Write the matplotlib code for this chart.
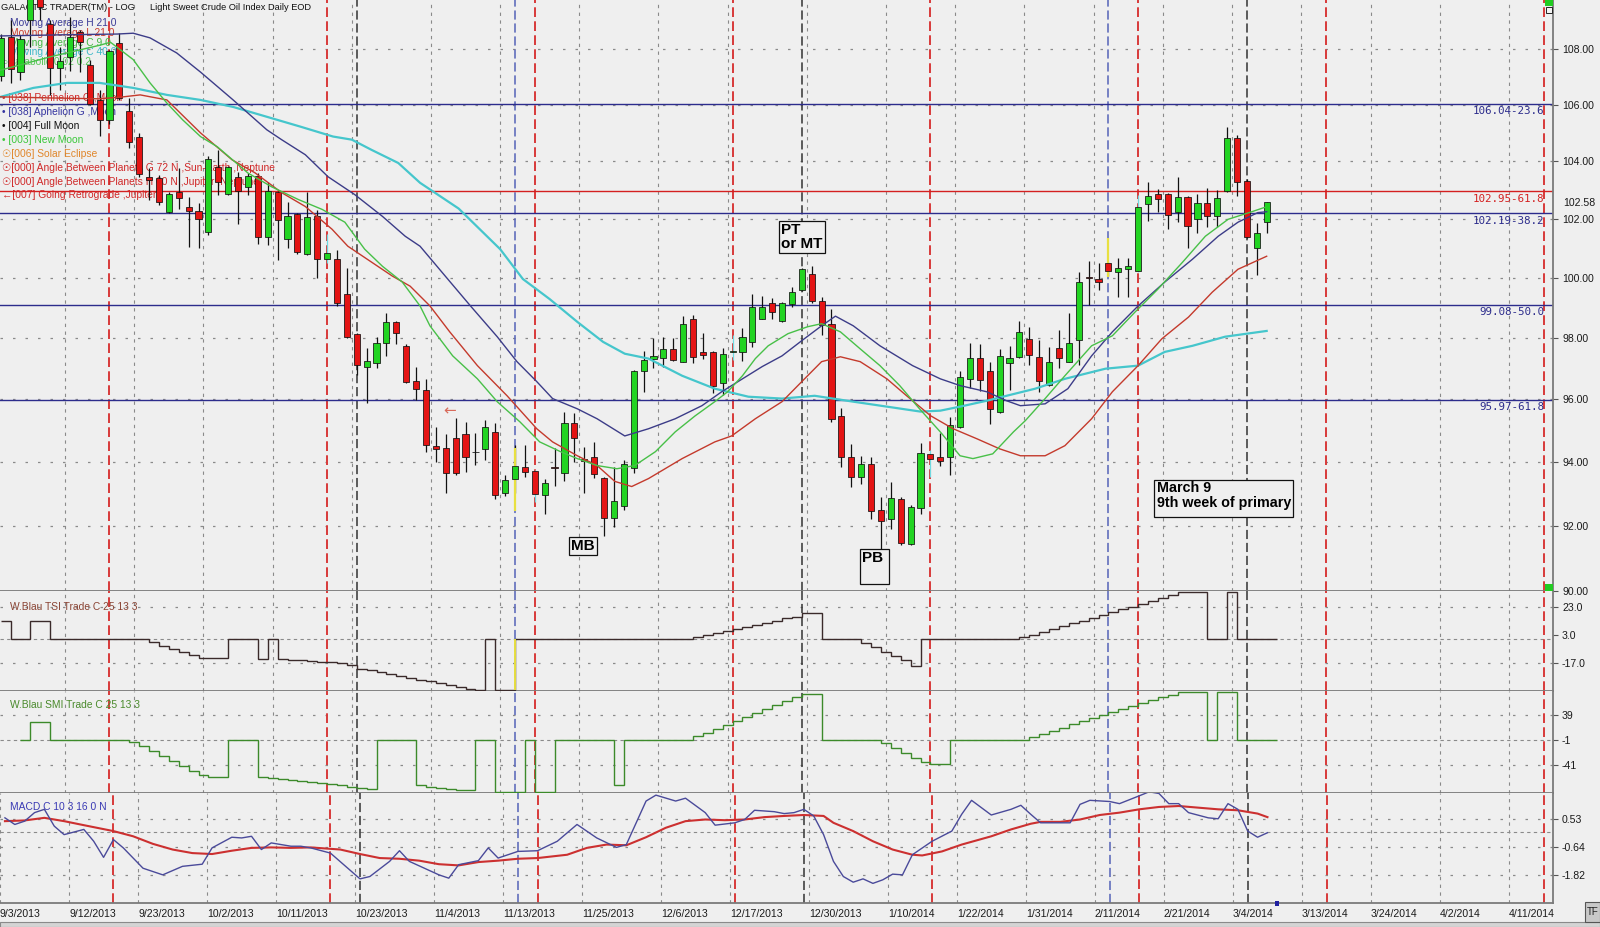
import numpy as np
import pandas as pd
import matplotlib
matplotlib.use('Agg')
from matplotlib import pyplot as plt
from matplotlib.patches import Rectangle
from matplotlib.ticker import FixedLocator, NullLocator

plt.rcParams['font.family'] = ['Liberation Sans', 'DejaVu Sans']

# ---------------- data ----------------
opens = [107.02, 108.44, 107.16, 109.06, 110.40, 108.90, 107.33, 107.70, 108.62, 107.44,
         106.18, 105.47, 108.22, 105.76, 104.84, 103.45, 103.41, 102.23, 102.92, 102.43,
         102.26, 101.56, 103.79, 102.86, 103.45, 103.10, 103.48, 101.39, 102.93, 101.32,
         102.17, 100.81, 102.10, 100.64, 100.64, 99.47, 98.13, 97.06, 97.19, 97.84,
         98.51, 97.74, 96.60, 96.30, 94.51, 94.44, 94.76, 94.89, 94.32, 94.41,
         94.95, 93.02, 93.45, 93.84, 93.71, 92.95, 93.84, 93.65, 95.24, 94.10,
         94.16, 93.48, 92.23, 92.60, 93.81, 96.90, 97.32, 97.35, 97.64, 97.22,
         98.64, 97.52, 97.55, 96.53, 97.52, 97.52, 97.87, 98.64, 99.17, 98.57,
         99.14, 99.60, 100.13, 99.24, 98.47, 95.45, 94.16, 93.52, 93.94, 92.48,
         92.20, 92.82, 91.43, 92.55, 94.25, 94.16, 94.16, 95.11, 96.67, 97.35,
         96.93, 95.59, 97.16, 97.38, 97.97, 97.38, 96.47, 97.67, 97.22, 97.93,
         100.03, 99.97, 100.50, 100.20, 100.30, 100.24, 102.50, 102.86, 102.86, 102.24,
         102.76, 102.00, 102.54, 102.10, 102.97, 104.83, 103.31, 101.02, 101.90]
highs = [108.55, 109.06, 108.50, 110.70, 110.60, 109.06, 108.07, 109.17, 108.70, 107.60,
         106.52, 107.96, 108.60, 106.25, 104.98, 103.76, 103.52, 102.92, 103.76, 102.75,
         102.54, 104.20, 104.38, 103.85, 103.62, 103.59, 103.59, 103.28, 102.95, 102.59,
         102.20, 102.93, 102.31, 101.49, 100.95, 100.34, 98.17, 97.67, 98.03, 98.84,
         98.55, 97.80, 97.06, 96.67, 95.11, 94.89, 95.40, 95.27, 94.92, 95.33,
         95.24, 93.58, 94.54, 94.54, 93.74, 93.45, 94.44, 95.60, 95.56, 94.48,
         94.63, 93.52, 93.84, 94.06, 96.95, 97.58, 98.00, 98.03, 98.00, 98.71,
         98.77, 98.17, 97.58, 97.67, 98.10, 98.33, 99.47, 99.40, 99.34, 99.20,
         99.70, 100.32, 100.41, 99.37, 98.97, 95.73, 94.57, 94.19, 94.16, 92.88,
         93.36, 92.88, 92.64, 94.60, 94.38, 94.92, 95.44, 96.90, 97.84, 97.80,
         97.22, 97.64, 97.74, 98.57, 98.37, 97.93, 97.70, 98.27, 98.84, 100.20,
         100.57, 100.50, 100.53, 100.67, 100.67, 102.83, 103.28, 103.04, 102.90, 103.45,
         102.80, 102.86, 103.07, 103.00, 105.20, 104.94, 103.38, 101.87, 102.57]
lows = [106.85, 106.78, 106.88, 108.07, 109.06, 106.34, 106.52, 107.20, 107.16, 106.00,
        104.90, 105.30, 106.15, 104.45, 103.45, 102.64, 102.47, 102.20, 102.36, 101.05,
        101.00, 101.46, 102.83, 102.83, 101.83, 102.83, 101.15, 101.12, 100.60, 101.02,
        100.82, 100.78, 100.00, 100.50, 99.07, 98.00, 96.77, 95.87, 97.00, 97.39,
        97.80, 96.53, 95.97, 94.32, 94.00, 93.03, 93.58, 93.68, 93.90, 94.06,
        92.82, 92.92, 93.03, 93.52, 92.73, 92.35, 93.23, 93.39, 94.00, 93.03,
        93.48, 91.68, 91.97, 92.50, 93.65, 96.23, 97.00, 97.06, 97.25, 97.22,
        97.19, 97.32, 96.20, 96.13, 97.29, 97.25, 97.70, 98.61, 98.64, 98.51,
        99.04, 99.57, 99.17, 98.10, 95.27, 93.84, 93.20, 93.29, 92.20, 91.13,
        91.91, 91.40, 91.40, 92.35, 93.52, 93.87, 93.58, 95.08, 96.37, 96.27,
        95.21, 95.56, 96.30, 97.35, 97.12, 96.23, 96.43, 97.00, 97.20, 97.12,
        99.10, 99.60, 100.07, 99.37, 99.37, 100.20, 101.93, 102.24, 101.66, 101.90,
        101.00, 101.53, 101.73, 101.73, 102.93, 102.79, 101.36, 100.10, 101.53]
closes = [108.41, 107.27, 108.37, 110.50, 109.54, 107.33, 107.56, 108.44, 108.26, 106.04,
          105.44, 107.93, 106.25, 104.66, 103.55, 103.34, 102.57, 102.85, 102.71, 102.26,
          102.00, 104.07, 103.28, 103.79, 102.97, 103.48, 101.39, 102.97, 101.97, 102.10,
          100.88, 102.07, 100.64, 100.85, 99.17, 98.03, 97.10, 97.25, 97.84, 98.51,
          98.17, 96.57, 96.33, 94.54, 94.41, 93.65, 93.65, 94.16, 94.30, 95.11,
          92.95, 93.43, 93.87, 93.68, 92.99, 93.33, 93.81, 95.24, 94.76, 94.03,
          93.61, 92.23, 92.76, 93.94, 96.93, 97.29, 97.42, 97.64, 97.29, 98.47,
          97.38, 97.45, 96.43, 97.48, 97.58, 98.03, 99.04, 99.04, 98.87, 99.17,
          99.54, 100.30, 99.24, 98.41, 95.35, 94.16, 93.52, 93.94, 92.45, 92.16,
          92.86, 91.46, 92.58, 94.28, 94.10, 94.03, 95.17, 96.73, 97.35, 96.63,
          95.68, 97.42, 97.35, 98.20, 97.45, 96.60, 97.22, 97.35, 97.84, 99.87,
          99.98, 99.87, 100.24, 100.34, 100.41, 102.41, 102.79, 102.69, 102.14, 102.76,
          101.76, 102.54, 102.10, 102.72, 104.83, 103.28, 101.39, 101.53, 102.58]

# moving averages (bar position, value)
mah_bars = [0, 6.0, 11.8, 13.4, 15.1, 17.8, 20.2, 23.5, 26.9, 28.4, 30.8, 33.1, 35.8, 38.6,
            40.9, 42.4, 45.2, 47.5, 50.2, 52.2, 54.2, 55.8, 58.3, 60.3, 63.1, 65.5, 68.2,
            70.9, 72.9, 75.0, 77.0, 79.0, 81.0, 83.0, 84.4, 86.2, 88.9, 92.2, 95.0, 97.0,
            99.7, 101.7, 103.1, 105.6, 107.9, 110.3, 112.4, 115.0, 117.7, 120.5, 123.1,
            125.1, 127.1, 128.0]
mah_vals = [108.48, 108.52, 108.55, 108.58, 108.41, 107.86, 107.17, 106.17, 105.11, 104.76,
            104.23, 103.46, 102.84, 102.09, 101.41, 101.07, 99.96, 99.06, 98.04, 97.22,
            96.57, 96.02, 95.69, 95.37, 94.82, 95.05, 95.37, 95.79, 96.24, 96.66, 97.06,
            97.41, 97.91, 98.40, 98.72, 98.40, 97.74, 97.09, 96.66, 96.44, 96.24, 95.95,
            95.79, 95.85, 96.34, 97.41, 98.20, 99.06, 99.86, 100.63, 101.41, 101.89,
            102.22, 102.25]
mal_bars = [0, 5.0, 10.0, 12.4, 14.1, 16.8, 20.2, 23.4, 25.7, 28.4, 30.8, 33.5, 35.1, 37.5,
            39.6, 41.4, 43.4, 45.4, 48.2, 51.2, 54.2, 55.8, 58.3, 60.3, 62.1, 63.8, 65.5,
            68.9, 72.2, 73.9, 76.3, 79.0, 81.0, 83.0, 84.9, 86.9, 89.6, 91.6, 94.0, 96.3,
            98.7, 101.0, 103.1, 105.6, 107.6, 110.3, 112.4, 115.0, 117.4, 120.1, 122.5,
            125.1, 128.0]
mal_vals = [106.28, 106.24, 106.21, 106.28, 106.35, 106.17, 105.00, 104.05, 103.60, 102.91,
            102.43, 101.65, 101.07, 100.53, 100.06, 99.72, 99.06, 98.20, 97.09, 96.11,
            95.05, 94.63, 94.19, 93.88, 93.38, 93.22, 93.47, 94.10, 94.63, 94.82, 95.37,
            95.92, 96.57, 97.22, 97.38, 97.22, 96.66, 96.11, 95.47, 95.05, 94.73, 94.41,
            94.19, 94.19, 94.51, 95.37, 96.24, 97.09, 97.97, 98.69, 99.52, 100.29, 100.73]
mac9_bars = [0, 5.0, 10.0, 11.1, 13.4, 15.1, 16.8, 18.4, 20.2, 21.9, 25.0, 27.4, 30.1, 32.5,
             34.8, 36.8, 38.6, 40.6, 42.4, 43.4, 45.7, 48.2, 50.2, 52.5, 54.5, 56.6, 58.3,
             60.3, 62.3, 64.1, 66.2, 68.2, 70.2, 72.2, 73.5, 75.0, 76.3, 77.6, 79.6, 81.6,
             83.0, 84.9, 86.9, 88.9, 90.9, 92.9, 95.0, 97.0, 98.3, 100.3, 102.4, 103.6,
             105.6, 107.6, 110.3, 112.4, 114.7, 117.0, 119.5, 121.8, 124.1, 126.5, 127.8]
mac9_vals = [107.24, 107.72, 108.14, 108.25, 107.62, 106.78, 106.06, 105.46, 104.87, 104.51,
             103.59, 103.11, 102.67, 102.33, 101.89, 100.97, 100.39, 99.86, 99.06, 98.40,
             97.41, 96.66, 95.92, 95.27, 94.63, 94.32, 94.10, 93.88, 93.78, 93.88, 94.32,
             94.95, 95.46, 95.92, 96.24, 96.76, 97.32, 97.74, 98.14, 98.37, 98.47, 98.20,
             97.64, 97.09, 96.44, 95.69, 94.95, 94.19, 94.10, 94.25, 94.95, 95.31, 96.02,
             96.76, 97.74, 98.07, 98.86, 99.62, 100.53, 101.41, 101.99, 102.25, 102.40]
mac40_bars = [0, 3.3, 6.7, 10.0, 13.4, 16.8, 20.2, 23.5, 26.9, 30.3, 33.6, 35.5, 37.5, 40.2,
              42.4, 46.3, 50.5, 52.8, 55.5, 58.3, 60.9, 63.1, 65.5, 68.9, 72.2, 75.6, 79.0,
              82.3, 86.2, 89.6, 93.0, 95.0, 97.0, 99.7, 101.7, 104.6, 107.6, 111.7, 115.0,
              117.7, 120.5, 123.8, 128.0]
mac40_vals = [106.28, 106.60, 106.78, 106.78, 106.60, 106.35, 106.17, 105.92, 105.57,
              105.22, 104.87, 104.76, 104.40, 103.94, 103.25, 102.36, 100.97, 99.96, 99.29,
              98.53, 97.87, 97.48, 97.32, 96.76, 96.34, 96.08, 96.02, 96.11, 95.92, 95.76,
              95.60, 95.63, 95.76, 95.95, 96.11, 96.34, 96.66, 96.99, 97.09, 97.54, 97.74,
              98.04, 98.23]

levels = [106.04, 102.95, 102.19, 99.08, 95.97]
level_labels = ['106.04-23.6', '102.95-61.8', '102.19-38.2', '99.08-50.0', '95.97-61.8']
level_colors = ['#2c2c8c', '#d42020', '#2c2c8c', '#2c2c8c', '#2c2c8c']

red_cycle_bars = [11, 33, 54, 74, 94, 115, 134, 156]
black_cycle_bars = [36, 81, 126]
navy_cycle_bars = [52, 112]
cyan_wick_bars = [33, 54, 74, 94, 115]
yellow_bars = [52, 112]
yellow_hi = [94.44, 101.36]
yellow_lo = [92.45, 100.03]

tsi = [13.5, 0, 0, 13.5, 13.5,
       0, 0, 0, 0, 0, 0, 0, 0, 0, 0,
       -2, -4.5, -7, -9, -11, -13, -13, -13,
       0, 0, 0, -14, 0,
       -14, -14.5, -15, -15.5, -16, -16.5, -17, -18,
       -21, -22, -23.5, -25, -26, -27.5, -29, -30, -31.5, -33, -34, -35.5, -36,
       0, -36, -36,
       0, 0, 0, 0, 0, 0, 0, 0, 0, 0, 0, 0, 0, 0, 0, 0, 0, 0,
       1.5, 3, 4.5, 6, 7.5, 9, 10.5, 12, 13.5, 15, 16.3,
       18.6, 18.6,
       0, 0, 0, 0,
       -2.5, -5.5, -9, -12, -15, -19,
       0, 0, 0, 0, 0, 0, 0, 0, 0, 0,
       1.5, 3.5, 5.5, 7.5, 9.5, 11.5, 13.5, 15.5, 17.5, 19.5, 21.5, 23.5, 25.5, 27.5,
       29.5, 32, 34, 34, 34,
       0, 0, 34, 0, 0, 0, 0]
smi = [np.nan, np.nan, -1, 28, 28,
       -1, -1, -1, -1, -1, -1, -1, -1,
       -4, -11, -19, -27, -35, -43, -51, -58, -60, -60,
       -1, -1, -1,
       -61, -62.5, -64, -65.5, -67, -68.5, -70, -72, -74, -76, -79, -80,
       -1, -1, -1, -1,
       -74, -76, -78, -79.5, -81, -82,
       -1, -1,
       -84, -84, -84,
       -1,
       -84, -84,
       -1, -1, -1, -1, -1, -1,
       -73,
       -1, -1, -1, -1, -1, -1, -1,
       5, 11, 17, 23, 30, 36, 42, 49, 55, 61, 68,
       73, 73,
       -1, -1, -1, -1, -1, -1,
       -6, -14, -22, -30, -37, -40, -40,
       -1, -1, -1, -1, -1, -1, -1, -1,
       4, 9, 14, 19, 24, 29, 34, 39, 44, 49, 54, 59, 64, 68, 72, 76, 76, 76,
       -1, 76, 76, -1, -1, -1, -1]

macd_bars = [0, 1, 2, 3, 4, 5, 6, 8, 9, 10, 11, 12, 14, 16, 18, 20, 21, 23, 24, 25, 26, 27,
             29, 30, 31, 33, 36, 37, 39, 40, 41, 44, 45, 46, 48, 49, 50, 52, 54, 56, 58, 60,
             62, 63, 65, 66, 68, 69, 71, 72, 74, 75, 76, 78, 79, 80, 81, 82, 83, 84, 85, 86,
             87, 88, 89, 90, 91, 92, 94, 96, 97, 98, 100, 102, 103, 104, 105, 107, 108, 109,
             110, 112, 113, 115, 116, 117, 118, 119, 120, 122, 123, 124, 125, 126, 127, 128]
macd_line = [0.60, 0.32, 0.46, 0.82, 0.96, 0.25, -0.11, 0.11, -0.39, -1.07, -0.32, -0.67,
             -1.53, -1.81, -1.45, -1.36, -0.67, -0.22, -0.25, -0.18, -0.74, -0.46, -0.60,
             -0.60, -0.67, -0.89, -1.98, -1.88, -1.24, -0.79, -1.24, -1.81, -1.95, -1.38,
             -1.21, -0.67, -1.10, -0.82, -0.79, -0.39, 0.32, -0.25, -0.65, -0.53,
             1.31, 1.56, 1.31, 1.43, 0.82, 0.29, 0.39, 0.53, 0.92, 0.86, 0.78, 0.82, 0.96,
             0.68, -0.11, -1.24, -1.88, -2.12, -1.98, -2.17, -2.02, -1.78, -1.81, -0.96,
             -0.39, 0.04, 0.75, 1.34, 0.72, 0.96, 1.13, 0.75, 0.39, 0.39, 0.39, 1.17, 1.34,
             1.29, 1.20, 1.53, 1.70, 1.63, 1.20, 1.20, 0.82, 0.60, 0.56, 1.20, 0.96, 0.04,
             -0.22, -0.03]
signal_bars = [0, 2, 4, 6, 8, 11, 13, 15, 17, 19, 21, 23, 25, 27, 29, 31, 34, 36, 38, 40,
               42, 44, 46, 48, 50, 52, 54, 57, 59, 61, 63, 65, 67, 69, 71, 73, 75, 77, 79,
               81, 83, 84, 86, 88, 90, 92, 93, 95, 97, 100, 102, 104, 105, 107, 109, 111,
               113, 115, 117, 119, 121, 123, 125, 127, 128]
signal_line = [0.46, 0.49, 0.60, 0.46, 0.29, 0.04, -0.18, -0.50, -0.74, -0.89, -0.93,
               -0.79, -0.67, -0.65, -0.67, -0.65, -0.74, -0.93, -1.10, -1.13, -1.21, -1.36,
               -1.41, -1.27, -1.21, -1.13, -1.10, -0.96, -0.67, -0.53, -0.56,
               -0.22, 0.18, 0.46, 0.53, 0.50, 0.53, 0.63, 0.68, 0.72, 0.68, 0.39, 0.04,
               -0.39, -0.74, -0.96, -0.99, -0.82, -0.53, -0.18, 0.11, 0.35, 0.43, 0.43,
               0.53, 0.72, 0.82, 0.96, 1.06, 1.10, 1.03, 0.96, 0.92, 0.78, 0.63]

tick_dates = ['2013-09-03', '2013-09-12', '2013-09-23', '2013-10-02', '2013-10-11',
              '2013-10-23', '2013-11-04', '2013-11-13', '2013-11-25', '2013-12-06',
              '2013-12-17', '2013-12-30', '2014-01-10', '2014-01-22', '2014-01-31',
              '2014-02-11', '2014-02-21', '2014-03-04', '2014-03-13', '2014-03-24',
              '2014-04-02', '2014-04-11']
tick_labels = ['9/3/2013', '9/12/2013', '9/23/2013', '10/2/2013', '10/11/2013',
               '10/23/2013', '11/4/2013', '11/13/2013', '11/25/2013', '12/6/2013',
               '12/17/2013', '12/30/2013', '1/10/2014', '1/22/2014', '1/31/2014',
               '2/11/2014', '2/21/2014', '3/4/2014', '3/13/2014', '3/24/2014',
               '4/2/2014', '4/11/2014']
holidays = ['2013-11-28', '2013-12-25', '2014-01-01', '2014-01-20', '2014-02-17']

price_ticks = [90, 92, 94, 96, 98, 100, 102, 104, 106, 108]

# ---------------- figure ----------------
W, H = 1600, 927
BG = '#efefef'
GRID = '#8a8a8a'
PANEL = '#7a7a7a'

days = pd.bdate_range('2013-09-03', '2014-04-30', freq='C', holidays=holidays)
grid_pos = [days.get_loc(pd.Timestamp(d)) - 0.5 for d in tick_dates]

fig = plt.figure(figsize=(W / 100, H / 100), dpi=100)
fig.patch.set_facecolor(BG)


def panel(top, bottom):
    ax = fig.add_axes([0, 1 - bottom / H, 1553 / W, (bottom - top) / H])
    ax.set_facecolor(BG)
    for s in ('left', 'top'):
        ax.spines[s].set_visible(False)
    for s in ('bottom', 'right'):
        ax.spines[s].set_color(PANEL)
        ax.spines[s].set_linewidth(1.3)
    ax.set_xlim(-0.07, 156.95)
    ax.yaxis.tick_right()
    ax.tick_params(axis='x', bottom=False, labelbottom=False)
    ax.tick_params(axis='y', which='major', direction='out', length=3.5, width=0.8,
                   color='#555555', labelsize=7.6, labelcolor='#1a1a1a', pad=3,
                   left=False, labelleft=False, right=True, labelright=True)
    for g in grid_pos:
        ax.axvline(g, color=GRID, lw=0.8, ls=(0, (3, 4)), zorder=0.5)
    for b in red_cycle_bars:
        ax.axvline(b, color='#d83a3a', lw=1.4, ls=(0, (5, 2.2)), zorder=1)
    for b in black_cycle_bars:
        ax.axvline(b, color='#333333', lw=1.1, ls=(0, (6, 2.5)), zorder=1)
    for b in navy_cycle_bars:
        ax.axvline(b, color='#5563b8', lw=1.1, ls=(0, (6, 2.5)), zorder=1)
    return ax


ax_p = panel(0, 591)
ax_t = panel(591, 691)
ax_s = panel(691, 793)
ax_m = panel(793, 903)


def ptext(ax, px, py, s, **kw):
    # text placed in figure pixels but drawn inside an axes (so candles can cover it)
    kw.setdefault('va', 'center')
    kw.setdefault('ha', 'left')
    kw.setdefault('zorder', 2)
    return ax.text(px / W, 1 - py / H, s, transform=fig.transFigure, **kw)


# ---- price panel ----
ax_p.set_yscale('log')
ax_p.set_ylim(90, 109.8)
ax_p.yaxis.set_major_locator(FixedLocator(price_ticks))
ax_p.yaxis.set_minor_locator(NullLocator())
ax_p.set_yticklabels(['%.2f' % t for t in price_ticks])
ax_p.tick_params(axis='y', which='minor', right=False)
for t in price_ticks[1:]:
    ax_p.axhline(t, color=GRID, lw=0.9, ls=(0, (2, 8)), zorder=0.5)

for lv, lab, col in zip(levels, level_labels, level_colors):
    ax_p.axhline(lv, color=col, lw=1.0, zorder=1.5)
    ax_p.annotate(lab, xy=(1, lv), xycoords=('axes fraction', 'data'),
                  xytext=(-6, -1.5), textcoords='offset points', ha='right', va='top',
                  fontsize=7.8, color=col, family=['DejaVu Sans Mono'])

ptext(ax_p, 1, 7, 'GALACTIC TRADER(TM) - LOG', fontsize=6.7, color='#111111')
ptext(ax_p, 150, 7, 'Light Sweet Crude Oil Index Daily EOD', fontsize=6.7, color='#111111')
legend_rows = [
    (10, 23, 'Moving Average H 21 0', '#3c3c98'),
    (10, 33, 'Moving Average L 21 0', '#c83a2c'),
    (10, 43, 'Moving Average C 9 0', '#44b844'),
    (10, 52, 'Moving Average C 40 0', '#40b8c8'),
    (2, 62, '\u25cbParabolic 0.02 0.2', '#58c858'),
    (2, 98, '\u2022 [038] Perihelion G ,Moon', '#d02828'),
    (2, 112, '\u2022 [038] Aphelion G ,Moon', '#3434a0'),
    (2, 126, '\u2022 [004] Full Moon', '#111111'),
    (2, 140, '\u2022 [003] New Moon', '#3cc83c'),
    (2, 154, '\u2609[006] Solar Eclipse', '#e0862a'),
    (2, 168, '\u2609[000] Angle Between Planets G 72 N ,Sun-Earth ,Neptune', '#d02828'),
    (2, 182, '\u2609[000] Angle Between Planets H 60 N ,Jupiter ,Neptune', '#d02828'),
    (2, 195, '\u2190[007] Going Retrograde ,Jupiter', '#d02828'),
]
for lx, ly, s, col in legend_rows:
    ptext(ax_p, lx, ly, s, fontsize=7.4, color=col)

x = np.arange(len(opens))
o = np.array(opens)
c = np.array(closes)
body_col = np.where(c >= o, '#22d422', '#e41414')
wick_col = ['#70d8e0' if i in cyan_wick_bars else '#111111' for i in x]
ax_p.vlines(x, lows, highs, colors=wick_col, lw=0.9, zorder=3)
ax_p.vlines(yellow_bars, yellow_lo, yellow_hi, colors='#e8e040', lw=1.6, zorder=3.1)
ax_p.bar(x, c - o, bottom=o, width=0.62, color=body_col, edgecolor='#111111',
         linewidth=0.55, zorder=4)

ax_p.plot(mac40_bars, mac40_vals, color='#45c6cc', lw=1.6, zorder=5)
ax_p.plot(mah_bars, mah_vals, color='#3c3c88', lw=1.0, zorder=5)
ax_p.plot(mal_bars, mal_vals, color='#c43a2c', lw=1.0, zorder=5)
ax_p.plot(mac9_bars, mac9_vals, color='#48c048', lw=1.0, zorder=5)

# ---- TSI panel ----
edges = np.arange(len(tsi) + 1)
ax_t.set_ylim(-37, 34.7)
ax_t.set_yticks([23, 3, -17])
ax_t.set_yticklabels(['23.0', '3.0', '-17.0'])
for v in (23, -17):
    ax_t.axhline(v, color=GRID, lw=0.9, ls=(0, (2, 8)), zorder=0.5)
ax_t.axhline(0, color=GRID, lw=0.8, ls=(0, (3, 3)), zorder=0.5)
ax_t.stairs(tsi, edges, color='#3a2a2a', lw=1.0, baseline=None, zorder=3)
ax_t.vlines(yellow_bars[:1], -36, 0, colors='#e8e040', lw=1.4, zorder=3.2)
ptext(ax_t, 10, 607, 'W.Blau TSI Trade C 25 13 3', fontsize=7.4, color='#8a4434')

# ---- SMI panel ----
smi_arr = np.array(smi)
ax_s.set_ylim(-86.3, 77.9)
ax_s.set_yticks([39, -1, -41])
ax_s.set_yticklabels(['39', '-1', '-41'])
for v in (39, -41):
    ax_s.axhline(v, color=GRID, lw=0.9, ls=(0, (2, 8)), zorder=0.5)
ax_s.axhline(-1, color=GRID, lw=0.8, ls=(0, (3, 3)), zorder=0.5)
ax_s.stairs(smi_arr[2:], edges[2:], color='#3c8a2a', lw=1.0, baseline=None, zorder=3)
ptext(ax_s, 10, 705, 'W.Blau SMI Trade C 25 13 3', fontsize=7.4, color='#4a8a2c')

# ---- MACD panel ----
ax_m.set_ylim(-3.0, 1.65)
ax_m.set_yticks([0.53, -0.64, -1.82])
ax_m.set_yticklabels(['0.53', '-0.64', '-1.82'])
for v in (0.53, -0.64, -1.82):
    ax_m.axhline(v, color=GRID, lw=0.9, ls=(0, (2, 8)), zorder=0.5)
ax_m.axhline(0, color=GRID, lw=0.8, ls=(0, (3, 3)), zorder=0.5)
ax_m.plot(signal_bars, signal_line, color='#cc3030', lw=1.5, zorder=3)
ax_m.plot(macd_bars, macd_line, color='#4a4a9a', lw=1.0, zorder=4)
ax_m.set_xticks(grid_pos)
ax_m.set_xticklabels(tick_labels, ha='left')
ax_m.tick_params(axis='x', bottom=True, length=0, labelbottom=True, labelsize=7.6,
                 labelcolor='#1a1a1a', pad=4)
ptext(ax_m, 10, 807, 'MACD C 10 3 16 0 N', fontsize=7.4, color='#3a3ab4')


# ---------------- annotations on top ----------------
def ftext(px, py, s, **kw):
    kw.setdefault('va', 'center')
    kw.setdefault('ha', 'left')
    return fig.text(px / W, 1 - py / H, s, **kw)


ftext(1563, 203, '102.58', fontsize=7.6, color='#1a1a1a')
ftext(443, 411, '\u2190', fontsize=11, color='#d86a5a', family=['DejaVu Sans'])

box = dict(boxstyle='square,pad=0.15', fc=BG, ec='#111111', lw=0.9)
ftext(781, 223, 'PT\nor MT', fontsize=11, fontweight='bold', va='top', linespacing=1.0,
      bbox=box)
ftext(571, 539, 'MB', fontsize=11, fontweight='bold', va='top', bbox=box)
fig.add_artist(Rectangle((860 / W, 1 - 584 / H), 29 / W, 35 / H, transform=fig.transFigure,
                         fc=BG, ec='#111111', lw=0.9, zorder=3))
ftext(862, 551, 'PB', fontsize=11, fontweight='bold', va='top', zorder=4)
fig.add_artist(Rectangle((1154 / W, 1 - 517 / H), 139 / W, 37 / H, transform=fig.transFigure,
                         fc=BG, ec='#111111', lw=0.9, zorder=3))
ftext(1157, 481, 'March 9\n9th week of primary', fontsize=10.3, fontweight='bold', va='top',
      linespacing=1.1, zorder=4)

# window decorations
fig.add_artist(Rectangle((1545 / W, 1 - 6 / H), 8 / W, 6 / H, transform=fig.transFigure,
                         fc='#22cc22', ec='none', zorder=6))
fig.add_artist(Rectangle((1546 / W, 1 - 13 / H), 6 / W, 6 / H, transform=fig.transFigure,
                         fc='#f4f4f4', ec='#222222', lw=0.7, zorder=6))
fig.add_artist(Rectangle((1545 / W, 1 - 591 / H), 8 / W, 7 / H, transform=fig.transFigure,
                         fc='#22cc22', ec='none', zorder=6))
fig.add_artist(Rectangle((1275 / W, 1 - 906 / H), 4 / W, 5 / H, transform=fig.transFigure,
                         fc='#2020a0', ec='none', zorder=6))
fig.add_artist(Rectangle((0, 0), 1, 5 / H, transform=fig.transFigure,
                         fc='#d4d4d4', ec='#8a8a8a', lw=0.8, zorder=6))
fig.add_artist(Rectangle((1585 / W, 1 - 922 / H), 15 / W, 20 / H, transform=fig.transFigure,
                         fc='#c8c8c8', ec='#555555', lw=0.8, zorder=6))
ftext(1587, 912, 'TF', fontsize=7, color='#222222', zorder=7)

fig.savefig('out.png', dpi=100, facecolor=BG)
